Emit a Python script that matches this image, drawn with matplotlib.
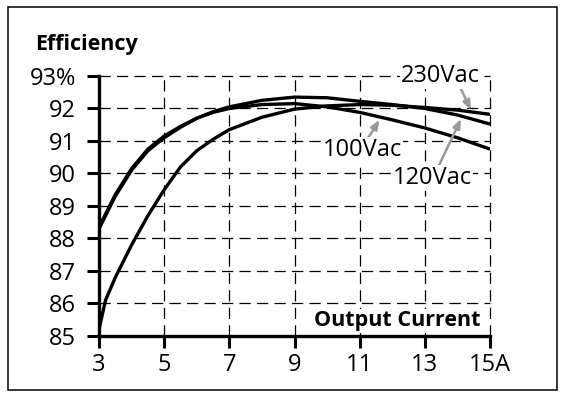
import matplotlib
matplotlib.use("Agg")
import matplotlib.pyplot as plt
from matplotlib.patches import Rectangle

plt.rcParams["font.family"] = ["Open Sans", "DejaVu Sans"]

# output current (A)
current = [3, 3.2, 3.5, 4, 4.5, 5, 5.5, 6, 6.5, 7, 8, 9, 10, 11, 12, 13, 14, 15]

eff_100 = [88.35, 88.75, 89.35, 90.15, 90.75, 91.15, 91.45, 91.7, 91.88, 92.0,
           92.12, 92.15, 92.05, 91.88, 91.65, 91.4, 91.1, 90.75]
eff_120 = [88.3, 88.7, 89.3, 90.1, 90.7, 91.1, 91.42, 91.7, 91.9, 92.05,
           92.25, 92.35, 92.33, 92.22, 92.12, 92.0, 91.8, 91.52]
eff_230 = [85.2, 86.1, 86.8, 87.8, 88.7, 89.5, 90.2, 90.7, 91.05, 91.35,
           91.73, 91.98, 92.08, 92.12, 92.1, 92.03, 91.95, 91.82]

x_ticks = [3, 5, 7, 9, 11, 13, 15]
x_labels = ["3", "5", "7", "9", "11", "13", "15A"]
y_ticks = [85, 86, 87, 88, 89, 90, 91, 92, 93]
y_labels = ["85", "86", "87", "88", "89", "90", "91", "92", "93%"]

fig = plt.figure(figsize=(5.68, 3.98), dpi=100)
fig.patches.append(Rectangle((0.0141, 0.0201), 0.9665, 0.9623, transform=fig.transFigure,
                             fill=False, edgecolor="black", linewidth=1.1))

ax = fig.add_axes([0.1743, 0.1558, 0.6884, 0.6533])

for y in (eff_100, eff_120, eff_230):
    ax.plot(current, y, color="black", linewidth=2.4, solid_capstyle="butt",
            solid_joinstyle="round", zorder=3)

ax.set_xlim(3, 15)
ax.set_ylim(85, 93)
ax.set_xticks(x_ticks)
ax.set_xticklabels(x_labels)
ax.set_yticks(y_ticks)
ax.set_yticklabels(y_labels)
ax.tick_params(axis="both", direction="out", length=8.5, width=2.2, labelsize=17,
               colors="black")
ax.tick_params(axis="x", pad=4)
ax.tick_params(axis="y", pad=8)

ax.grid(True, color="black", linewidth=0.9, linestyle=(0, (9, 5)))
for gl in ax.get_xgridlines() + ax.get_ygridlines():
    gl.set_clip_on(False)

for side in ("top", "right"):
    ax.spines[side].set_visible(False)
for side in ("left", "bottom"):
    ax.spines[side].set_linewidth(2.4)

fig.text(0.0616, 0.889, "Efficiency", fontsize=15.5, fontweight="bold", va="center", ha="left")
ax.text(14.7, 85.47, "Output Current", fontsize=15.5, fontweight="bold", ha="right", va="center",
        zorder=4, bbox=dict(facecolor="white", edgecolor="none", pad=1))

arrow = dict(arrowstyle="-|>,head_length=0.55,head_width=0.22", color="#999999", lw=1.8,
             shrinkA=0, shrinkB=0)
lab = dict(fontsize=17, ha="center", va="center", zorder=5,
           bbox=dict(facecolor="white", edgecolor="none", pad=0.5))

ax.annotate("", xy=(14.42, 91.95), xytext=(14.02, 92.78), arrowprops=arrow, zorder=4)
ax.text(13.47, 93.0, "230Vac", **lab)

ax.annotate("", xy=(11.61, 91.65), xytext=(11.22, 91.03), arrowprops=arrow, zorder=4)
ax.text(11.1, 90.72, "100Vac", **lab)

ax.annotate("", xy=(14.11, 91.68), xytext=(13.41, 90.2), arrowprops=arrow, zorder=4)
ax.text(13.23, 89.86, "120Vac", **lab)

fig.savefig("out.png", dpi=100)
